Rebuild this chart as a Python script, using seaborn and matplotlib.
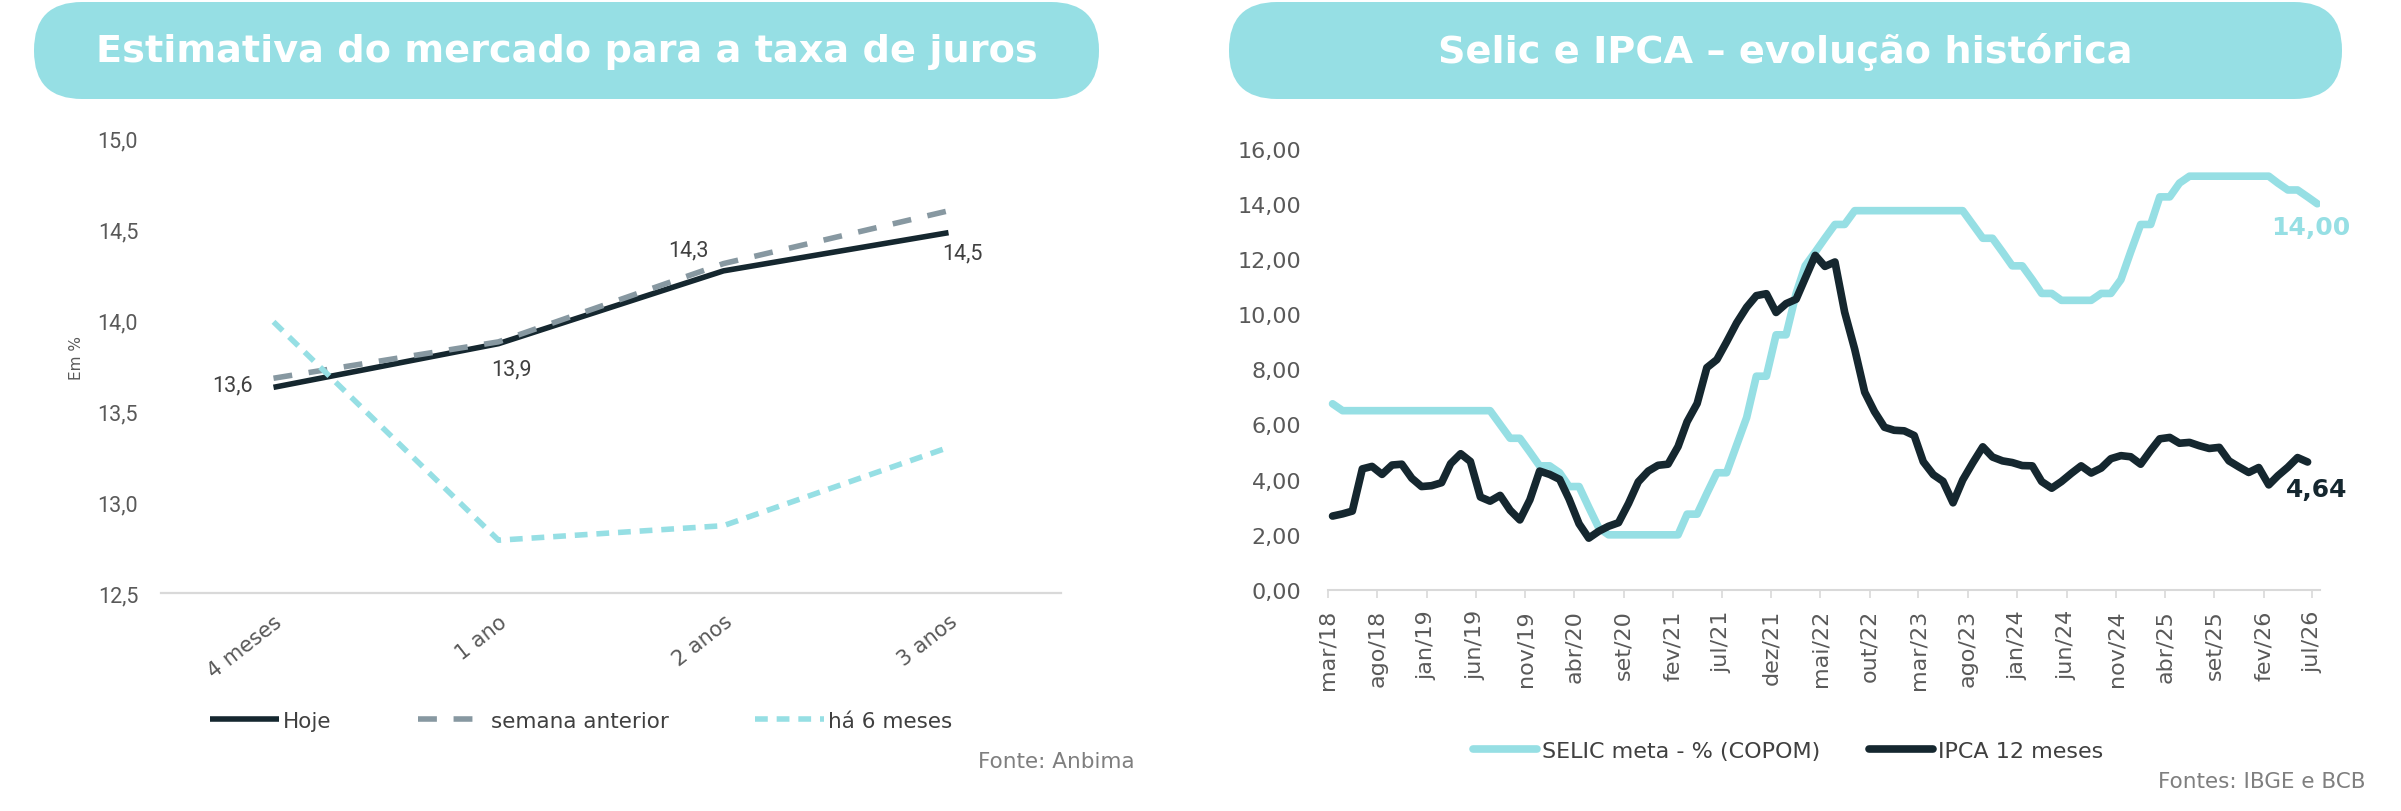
import numpy as np
import pandas as pd
import matplotlib.pyplot as plt
import matplotlib.dates as mdates
import seaborn as sns
from matplotlib.patches import FancyBboxPatch
from matplotlib.ticker import FuncFormatter

# Estimativa do mercado para a taxa de juros (Anbima)
prazos = ["4 meses", "1 ano", "2 anos", "3 anos"]
hoje = [13.63, 13.87, 14.27, 14.48]
semana_anterior = [13.68, 13.88, 14.31, 14.60]
ha_6_meses = [13.99, 12.79, 12.87, 13.30]

# Selic meta e IPCA 12 meses, mensal a partir de mar/18
inicio = "2018-03-01"
selic = [6.75,
         6.50, 6.50, 6.50, 6.50, 6.50, 6.50, 6.50, 6.50,
         6.50, 6.50, 6.50, 6.50, 6.50, 6.50, 6.50, 6.50,
         6.00, 5.50, 5.50, 5.00, 4.50, 4.50, 4.25, 3.75,
         3.75, 3.00, 2.25, 2.00, 2.00, 2.00, 2.00, 2.00,
         2.00, 2.00, 2.00, 2.75, 2.75, 3.50, 4.25, 4.25,
         5.25, 6.25, 7.75, 7.75, 9.25, 9.25, 10.75, 11.75,
         12.25, 12.75, 13.25, 13.25, 13.75, 13.75, 13.75, 13.75,
         13.75, 13.75, 13.75, 13.75, 13.75, 13.75, 13.75, 13.75,
         13.25, 12.75, 12.75, 12.25, 11.75, 11.75, 11.25, 10.75,
         10.75, 10.50, 10.50, 10.50, 10.50, 10.75, 10.75, 11.25,
         12.25, 13.25, 13.25, 14.25, 14.25, 14.75, 15.00, 15.00,
         15.00, 15.00, 15.00, 15.00, 15.00, 15.00, 15.00, 14.75,
         14.50, 14.50, 14.25, 14.00]
ipca = [2.68, 2.76, 2.86, 4.39, 4.48, 4.19, 4.53, 4.56, 4.05, 3.75,
        3.78, 3.89, 4.58, 4.94, 4.66, 3.37, 3.22, 3.43, 2.89, 2.54,
        3.27, 4.31, 4.19, 4.01, 3.30, 2.40, 1.88, 2.13, 2.31, 2.44,
        3.14, 3.92, 4.31, 4.52, 4.56, 5.20, 6.10, 6.76, 8.06, 8.35,
        8.99, 9.68, 10.25, 10.67, 10.74, 10.06, 10.38, 10.54, 11.30, 12.13,
        11.73, 11.89, 10.07, 8.73, 7.17, 6.47, 5.90, 5.79, 5.77, 5.60,
        4.65, 4.18, 3.94, 3.16, 3.99, 4.61, 5.19, 4.82, 4.68, 4.62,
        4.51, 4.50, 3.93, 3.69, 3.93, 4.23, 4.50, 4.24, 4.42, 4.76,
        4.87, 4.83, 4.56, 5.06, 5.48, 5.53, 5.32, 5.35, 5.23, 5.13,
        5.17, 4.68, 4.46, 4.26, 4.44, 3.81, 4.14, 4.45, 4.80, 4.64]
meses_pt = ["jan", "fev", "mar", "abr", "mai", "jun",
            "jul", "ago", "set", "out", "nov", "dez"]

titulo_esq = "Estimativa do mercado para a taxa de juros"
titulo_dir = "Selic e IPCA – evolução histórica"

CIANO = "#96DFE4"
ESCURO = "#15272F"
CINZA = "#8798A1"
TEXTO = "#595959"
LEGENDA = "#404040"
EIXO = "#D9D9D9"


def virgula(v, casas):
    return f"{v:.{casas}f}".replace(".", ",")


sns.set_theme(style="white")
plt.rcParams["font.family"] = ["DejaVu Sans"]

fig = plt.figure(figsize=(24.01, 8.12), dpi=100)

# camada de fundo em pixels: faixas de titulo e fontes
fundo = fig.add_axes([0, 0, 1, 1])
fundo.set_xlim(0, 2401)
fundo.set_ylim(812, 0)
fundo.axis("off")

for x0, x1, titulo in [(34, 1099, titulo_esq), (1229, 2342, titulo_dir)]:
    fundo.add_patch(FancyBboxPatch((x0, 3), x1 - x0, 97,
                                   boxstyle="round,pad=0,rounding_size=48",
                                   fc=CIANO, ec="none"))
    fundo.text((x0 + x1) / 2, 52, titulo, ha="center", va="center",
               fontsize=27.5, fontweight="bold", color="white")

fundo.text(1135, 762, "Fonte: Anbima", ha="right", va="center",
           fontsize=15.5, color="#7F7F7F")
fundo.text(2366, 782, "Fontes: IBGE e BCB", ha="right", va="center",
           fontsize=15.5, color="#7F7F7F")

# ---------- grafico da esquerda ----------
ax1 = fig.add_axes([0.06706, 0.26847, 0.37484, 0.56034])
ax1.patch.set_alpha(0)
pos = np.arange(len(prazos))

sns.lineplot(x=pos, y=hoje, ax=ax1, color=ESCURO, linewidth=4.0,
             solid_capstyle="butt", label="Hoje")
sns.lineplot(x=pos, y=semana_anterior, ax=ax1, color=CINZA, linewidth=4.0,
             linestyle=(0, (3.4, 3.0)), label="semana anterior")
sns.lineplot(x=pos, y=ha_6_meses, ax=ax1, color=CIANO, linewidth=4.0,
             linestyle=(0, (2.3, 1.6)), label="há 6 meses")

ax1.set_xlim(-0.5, 3.5)
ax1.set_ylim(12.5, 15.0)
ax1.set_yticks(np.arange(12.5, 15.01, 0.5))
ax1.yaxis.set_major_formatter(FuncFormatter(lambda v, p: virgula(v, 1)))
ax1.set_xticks(pos)
ax1.set_xticklabels(prazos, rotation=38, ha="right", rotation_mode="anchor")
ax1.tick_params(axis="both", length=0, labelcolor=TEXTO)
ax1.tick_params(axis="y", labelsize=15.5, pad=16.5, labelfontfamily="Roboto")
ax1.tick_params(axis="x", labelsize=15, pad=13)
sns.despine(ax=ax1, left=True)
ax1.spines["bottom"].set_color(EIXO)
ax1.spines["bottom"].set_linewidth(1.6)

ax1.set_xlabel("")
ax1.set_ylabel("Em %", fontsize=11, color=TEXTO)
ax1.yaxis.set_label_coords(-0.0856, 0.519)

# rotulos da serie Hoje
desloc = [(-14.8, 1.4, "right"), (9.4, -18, "center"),
          (-25.6, 14.8, "center"), (9.7, -14.7, "center")]
for xi, v, (dx, dy, ha) in zip(pos, hoje, desloc):
    ax1.annotate(virgula(v, 1), (xi, v), xytext=(dx, dy),
                 textcoords="offset points", ha=ha, va="center",
                 fontsize=15.5, color=LEGENDA, family="Roboto")

ax1.legend(loc="center", bbox_to_anchor=(581, 722),
           bbox_transform=fundo.transData, ncol=3, frameon=False,
           fontsize=15.5, handlelength=3.2, handletextpad=0.2,
           columnspacing=4, labelcolor=LEGENDA)

# ---------- grafico da direita ----------
ax2 = fig.add_axes([0.55298, 0.27217, 0.41337, 0.54360])
ax2.patch.set_alpha(0)

meses = pd.date_range(inicio, periods=len(selic), freq="MS")
datas = meses + pd.Timedelta(days=15)

sns.lineplot(x=datas, y=selic, ax=ax2, color=CIANO, linewidth=5.5,
             solid_capstyle="round", solid_joinstyle="round",
             label="SELIC meta - % (COPOM)")
sns.lineplot(x=datas[:len(ipca)], y=ipca, ax=ax2, color=ESCURO,
             linewidth=5.5, solid_capstyle="round", solid_joinstyle="round",
             label="IPCA 12 meses")

marcas = meses[::5]
ax2.set_xticks(marcas)
ax2.set_xticklabels([f"{meses_pt[d.month - 1]}/{d.year % 100:02d}" for d in marcas],
                    rotation=90)
ax2.set_xlim(meses[0], marcas[-1] + pd.Timedelta(days=24))
ax2.set_ylim(0, 16)
ax2.set_yticks(np.arange(0, 16.01, 2))
ax2.yaxis.set_major_formatter(FuncFormatter(lambda v, p: virgula(v, 2)))

ax2.tick_params(axis="x", bottom=True, direction="out", length=5.8, width=1.2,
                color=EIXO, labelcolor=TEXTO, labelsize=16, pad=8)
ax2.tick_params(axis="y", length=0, labelcolor=TEXTO, labelsize=16, pad=19)
sns.despine(ax=ax2, left=True)
ax2.spines["bottom"].set_color(EIXO)
ax2.spines["bottom"].set_linewidth(1.5)
ax2.set_xlabel("")
ax2.set_ylabel("")

# valores finais
ax2.annotate(virgula(selic[-1], 2), (mdates.date2num(datas[-1]), selic[-1]),
             xytext=(-5, -16.8), textcoords="offset points", ha="center",
             va="center", fontsize=18, fontweight="bold", color=CIANO)
ax2.annotate(virgula(ipca[-1], 2), (mdates.date2num(datas[len(ipca) - 1]), ipca[-1]),
             xytext=(6.2, -19.4), textcoords="offset points", ha="center",
             va="center", fontsize=18, fontweight="bold", color=ESCURO)

ax2.legend(loc="center", bbox_to_anchor=(1788, 752),
           bbox_transform=fundo.transData, ncol=2, frameon=False,
           fontsize=16, handlelength=2.9, handletextpad=0.2,
           columnspacing=2.2, labelcolor=LEGENDA)

fig.savefig("out.png", dpi=100)
